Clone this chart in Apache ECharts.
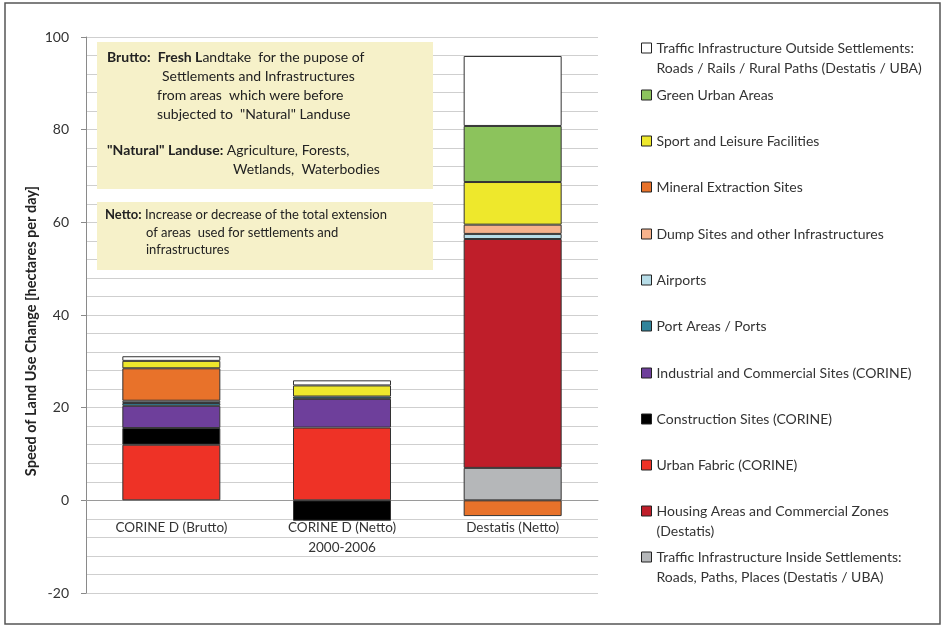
<!DOCTYPE html>
<html>
<head>
<meta charset="utf-8">
<script src="https://cdn.jsdelivr.net/npm/echarts@6/dist/echarts.min.js"></script>
<style>
html,body{margin:0;padding:0;background:#fff;}
#chart{width:943px;height:627px;}
</style>
</head>
<body>
<div id="chart"></div>
<script>
// Categories (x axis)
var categories = ['CORINE D (Brutto)', 'CORINE D (Netto)\n2000-2006', 'Destatis (Netto)'];
// Y axis tick labels
var yTicks = [-20, 0, 20, 40, 60, 80, 100];
var yTitle = 'Speed of Land Use Change [hectares per day]';

// Series names (stack order bottom -> top)
var seriesNames = [
  'Traffic Infrastructure Inside Settlements:\nRoads, Paths, Places (Destatis / UBA)',
  'Housing Areas and Commercial Zones\n(Destatis)',
  'Urban Fabric (CORINE)',
  'Construction Sites (CORINE)',
  'Industrial and Commercial Sites (CORINE)',
  'Port Areas / Ports',
  'Airports',
  'Dump Sites and other Infrastructures',
  'Mineral Extraction Sites',
  'Sport and Leisure Facilities',
  'Green Urban Areas',
  'Traffic Infrastructure Outside Settlements:\nRoads / Rails / Rural Paths (Destatis / UBA)'
];

// Values per series [Brutto, Netto, Destatis] in hectares per day
var trafficInside   = [0, 0, 7.0];
var housingAreas    = [0, 0, 49.4];
var urbanFabric     = [12.0, 15.7, 0];
var constructionSites = [3.6, -4.4, 0];
var industrialSites = [4.8, 6.2, 0];
var portAreas       = [0.6, 0.5, 0];
var airports        = [0.5, 0, 1.1];
var dumpSites       = [0, 0, 2.0];
var mineralSites    = [7.0, 0, -3.4];
var sportLeisure    = [1.6, 2.4, 9.2];
var greenUrban      = [0, 0, 12.1];
var trafficOutside  = [1.0, 1.1, 15.1];

var seriesValues = [trafficInside, housingAreas, urbanFabric, constructionSites, industrialSites,
  portAreas, airports, dumpSites, mineralSites, sportLeisure, greenUrban, trafficOutside];

var colors = ['#B5B7B9', '#BF1E2A', '#EE3226', '#000000', '#6E3F9B', '#31849B',
  '#B7DDE8', '#F6B28C', '#E8722A', '#EEE82C', '#8CC35C', '#FFFFFF'];

var FONT = 'Lato, "Open Sans", sans-serif';

var series = seriesNames.map(function (n, i) {
  return {
    name: n,
    type: 'bar',
    stack: 'total',
    barWidth: 98,
    itemStyle: { color: colors[i], borderColor: '#333', borderWidth: 1 },
    emphasis: { disabled: true },
    data: seriesValues[i].map(function (v) { return v === 0 ? null : v; })
  };
});

// Legend: top-to-bottom order is reverse of stacking order
var legendCenters = [48, 95, 141, 187, 234, 280, 326, 373, 419, 465, 511, 557];
var legends = [];
for (var k = 0; k < seriesNames.length; k++) {
  var idx = seriesNames.length - 1 - k;
  var name = seriesNames[idx];
  var twoLine = name.indexOf('\n') >= 0;
  legends.push({
    left: 641,
    top: legendCenters[k] - (twoLine ? 30 : 10),
    orient: 'vertical',
    padding: 0,
    itemWidth: 10,
    itemHeight: 10,
    icon: 'rect',
    selectedMode: false,
    itemStyle: { borderColor: '#222', borderWidth: 1 },
    formatter: twoLine ? function (n) { return ' \n' + n; } : '{name}',
    textStyle: { fontFamily: FONT, fontSize: 14, color: '#333', lineHeight: 20 },
    data: [name]
  });
}

function txt(x, y, text, size) {
  return {
    type: 'text', z: 20, x: x, y: y,
    style: {
      text: text, fill: '#222', fontFamily: FONT, fontSize: size || 14,
      verticalAlign: 'middle', align: 'left',
      rich: { b: { fontWeight: 'bold', fontFamily: FONT, fontSize: size || 14, fill: '#222' } }
    }
  };
}

var GRID_TOP = 37, GRID_BOTTOM = 34, H = 627;
var plotH = H - GRID_TOP - GRID_BOTTOM;
var yMin = -20, yMax = 100;
var zeroOffset = -plotH * (0 - yMin) / (yMax - yMin);

var option = {
  backgroundColor: '#fff',
  animation: false,
  grid: { left: 86, right: 345, top: GRID_TOP, bottom: GRID_BOTTOM, containLabel: false, outerBoundsMode: 'none' },
  xAxis: {
    type: 'category',
    data: categories,
    offset: zeroOffset,
    axisLine: { onZero: false, lineStyle: { color: '#9a9a9a', width: 1 } },
    axisTick: { show: false },
    axisLabel: { fontFamily: FONT, fontSize: 13.5, color: '#333', margin: 17, lineHeight: 20 },
    splitLine: { show: false }
  },
  yAxis: {
    type: 'value',
    min: yMin, max: yMax, interval: 20,
    axisLine: { show: true, lineStyle: { color: '#8a8a8a' } },
    axisTick: { show: true, length: 5, lineStyle: { color: '#8a8a8a' } },
    axisLabel: {
      fontFamily: FONT, fontSize: 14, color: '#333', margin: 17,
      formatter: function (v) { return yTicks.indexOf(v) >= 0 ? String(v) : ''; }
    },
    splitLine: { show: true, lineStyle: { color: '#cfcfcf', width: 1 } },
    minorTick: { show: false, splitNumber: 5 },
    minorSplitLine: { show: true, lineStyle: { color: '#cfcfcf', width: 1 } }
  },
  legend: legends,
  series: series,
  graphic: [
    { type: 'rect', z: 0, shape: { x: 5, y: 3, width: 935, height: 621 },
      style: { fill: 'none', stroke: '#555', lineWidth: 1.5 } },
    { type: 'rect', z: 15, shape: { x: 97, y: 42, width: 336, height: 147 },
      style: { fill: '#F6F1C9' } },
    { type: 'rect', z: 15, shape: { x: 97, y: 202, width: 336, height: 68 },
      style: { fill: '#F6F1C9' } },
    { type: 'text', z: 20, x: 31, y: 331, rotation: Math.PI / 2,
      style: { text: yTitle, fill: '#222', fontFamily: FONT, fontSize: 14.5, fontWeight: 'bold',
        align: 'center', verticalAlign: 'middle' } },
    txt(107, 57, '{b|Brutto:}  {b|Fresh L}andtake  for the pupose of'),
    txt(162, 76, 'Settlements and Infrastructures'),
    txt(157, 95, 'from areas  which were before'),
    txt(157, 114, 'subjected to  "Natural" Landuse'),
    txt(107, 150, '{b|"Natural" Landuse:} Agriculture, Forests,'),
    txt(233, 169, 'Wetlands,  Waterbodies'),
    txt(105, 215, '{b|Netto:} Increase or decrease of the total extension', 13),
    txt(146, 233, 'of areas  used for settlements and', 13),
    txt(146, 250, 'infrastructures', 13)
  ]
};

var chart = echarts.init(document.getElementById('chart'), null, { renderer: 'canvas' });
chart.setOption(option);
</script>
</body>
</html>
